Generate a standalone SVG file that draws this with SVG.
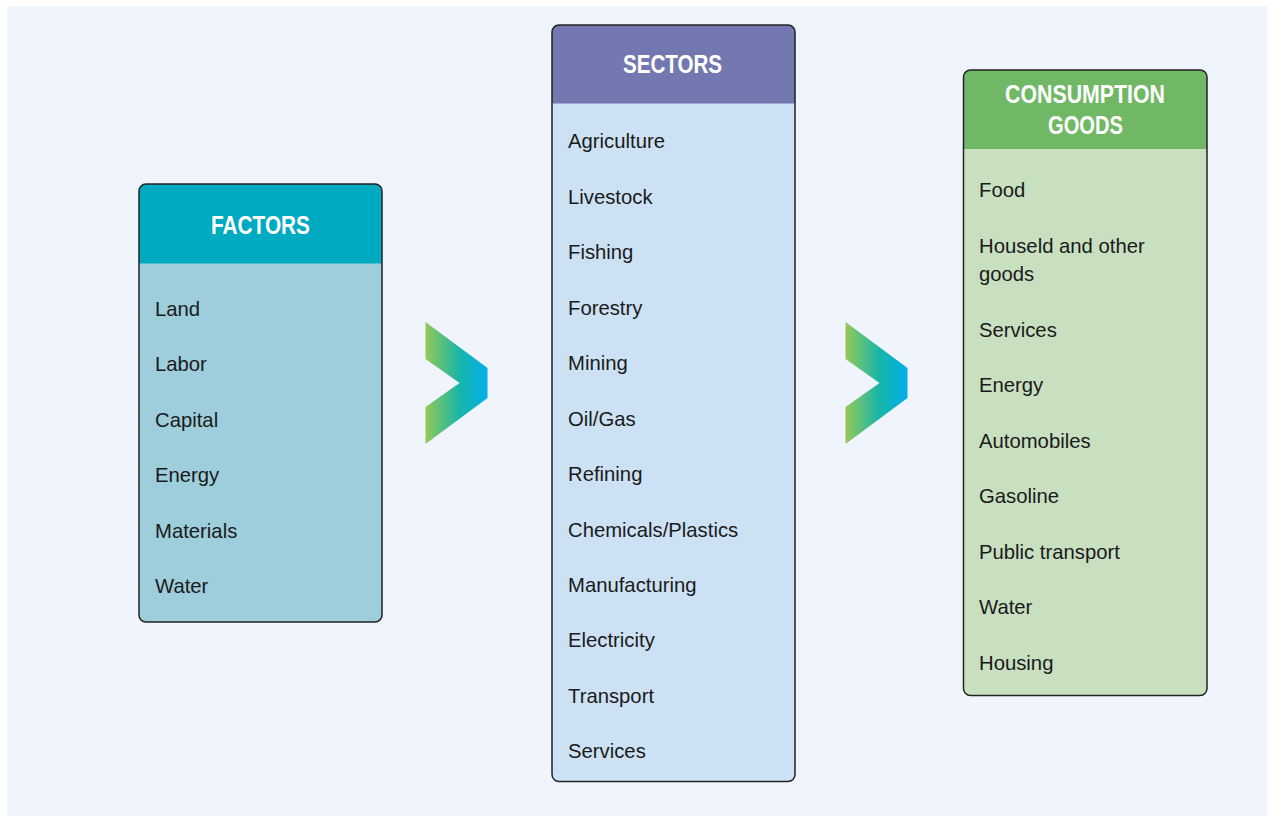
<svg xmlns="http://www.w3.org/2000/svg" width="1267" height="816" viewBox="0 0 1267 816">
<defs>
<style>
.box{fill:none;stroke:#222;stroke-width:1.5}
.hd{font-family:"Liberation Sans",Arial,sans-serif;font-weight:bold;font-size:26px;fill:#fff;text-anchor:middle}
.it{font-family:"Liberation Sans",Arial,sans-serif;font-size:20.3px;fill:#1a1a1a}
</style>
<linearGradient id="ag" x1="0" y1="0" x2="1" y2="0">
<stop offset="0" stop-color="#94c858"/>
<stop offset="0.55" stop-color="#17b6a8"/>
<stop offset="1" stop-color="#00aeea"/>
</linearGradient>
<polygon id="chev" points="0,0 62,46 62,76 0,122 0,85 34,61 0,37"/>
</defs>
<rect x="0" y="0" width="1267" height="816" fill="#ffffff"/>
<rect x="7" y="6" width="1260" height="810" fill="#f0f5fd"/>

<g id="connectors">
<use href="#chev" x="425.5" y="322" fill="url(#ag)"/>
<use href="#chev" x="845.5" y="322" fill="url(#ag)"/>
</g>

<g id="factors">
<rect x="139" y="184" width="243" height="438" rx="7" fill="#9ecedb"/>
<path d="M139,263.5 V191 a7,7 0 0 1 7,-7 H375 a7,7 0 0 1 7,7 V263.5 Z" fill="#00aac0"/>
<rect class="box" x="139" y="184" width="243" height="438" rx="7"/>
<text class="hd" x="260.5" y="234" textLength="99" lengthAdjust="spacingAndGlyphs">FACTORS</text>
<text class="it" x="155" y="315.5">Land</text>
<text class="it" x="155" y="371">Labor</text>
<text class="it" x="155" y="426.5">Capital</text>
<text class="it" x="155" y="482">Energy</text>
<text class="it" x="155" y="537.5">Materials</text>
<text class="it" x="155" y="592.5">Water</text>
</g>

<g id="sectors">
<rect x="552" y="25" width="243" height="756.5" rx="7" fill="#cce2f4"/>
<path d="M552,103.5 V32 a7,7 0 0 1 7,-7 H788 a7,7 0 0 1 7,7 V103.5 Z" fill="#7478b0"/>
<rect class="box" x="552" y="25" width="243" height="756.5" rx="7"/>
<text class="hd" x="672.5" y="72.5" textLength="99" lengthAdjust="spacingAndGlyphs">SECTORS</text>
<text class="it" x="568" y="148.3">Agriculture</text>
<text class="it" x="568" y="203.8">Livestock</text>
<text class="it" x="568" y="259.2">Fishing</text>
<text class="it" x="568" y="314.7">Forestry</text>
<text class="it" x="568" y="370.1">Mining</text>
<text class="it" x="568" y="425.6">Oil/Gas</text>
<text class="it" x="568" y="481">Refining</text>
<text class="it" x="568" y="536.5">Chemicals/Plastics</text>
<text class="it" x="568" y="591.9">Manufacturing</text>
<text class="it" x="568" y="647.4">Electricity</text>
<text class="it" x="568" y="702.8">Transport</text>
<text class="it" x="568" y="758.3">Services</text>
</g>

<g id="consumption">
<rect x="963.5" y="70" width="243.5" height="625.5" rx="7" fill="#c8dfc0"/>
<path d="M963.5,149 V77 a7,7 0 0 1 7,-7 H1200 a7,7 0 0 1 7,7 V149 Z" fill="#70b865"/>
<rect class="box" x="963.5" y="70" width="243.5" height="625.5" rx="7"/>
<text class="hd" x="1085" y="103.3" textLength="160" lengthAdjust="spacingAndGlyphs">CONSUMPTION</text>
<text class="hd" x="1085.5" y="134" textLength="75" lengthAdjust="spacingAndGlyphs">GOODS</text>
<text class="it" x="979" y="197.3">Food</text>
<text class="it" x="979" y="253.3">Houseld and other</text>
<text class="it" x="979" y="281.3">goods</text>
<text class="it" x="979" y="336.5">Services</text>
<text class="it" x="979" y="392">Energy</text>
<text class="it" x="979" y="447.5">Automobiles</text>
<text class="it" x="979" y="503">Gasoline</text>
<text class="it" x="979" y="558.5">Public transport</text>
<text class="it" x="979" y="614">Water</text>
<text class="it" x="979" y="669.5">Housing</text>
</g>
</svg>
